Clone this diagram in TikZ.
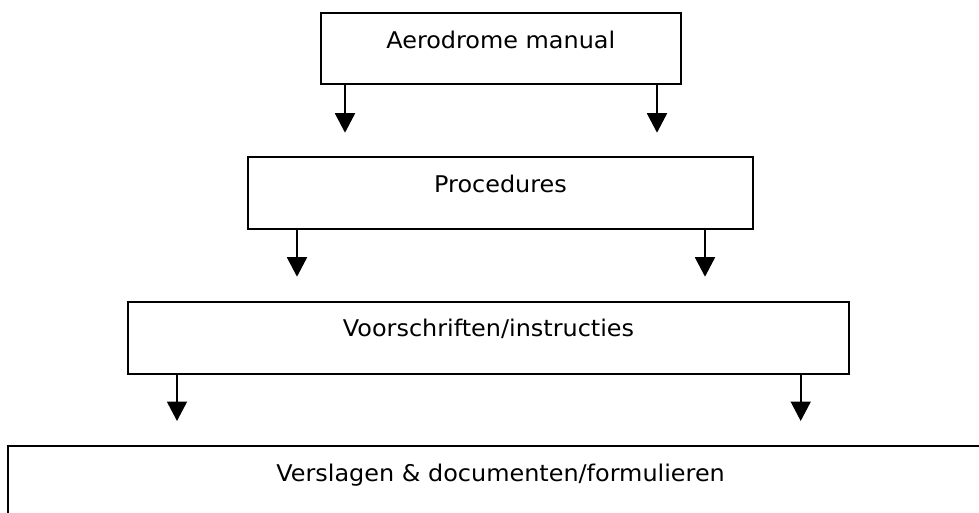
\documentclass[tikz,border=0pt]{standalone}
\usepackage{fontspec}
\setmainfont[FakeStretch=1.04]{DejaVu Sans}
\usetikzlibrary{arrows.meta}
\begin{document}
\begin{tikzpicture}[x=1pt,y=-1pt,
  box/.style={draw=black, line width=1.9pt, rectangle, inner sep=0pt, outer sep=0pt, anchor=north west},
  lbl/.style={font=\fontsize{23}{27}\selectfont, anchor=base, inner sep=0pt},
  arr/.style={line width=1.9pt, -{Triangle[width=20pt,length=19.5pt]}}]
\useasboundingbox (0,0) rectangle (979,512);
\clip (0,0) rectangle (979,512);
% boxes
\node[box, minimum width=360.3pt, minimum height=71pt] (b1) at (320.7,13.3) {};
\node[box, minimum width=504.4pt, minimum height=72pt] (b2) at (248.3,157.3) {};
\node[box, minimum width=720.4pt, minimum height=71.7pt] (b3) at (128.3,302) {};
\node[box, minimum width=984.7pt, minimum height=90pt] (b4) at (8.3,445.7) {};
% labels
\node[lbl] (t1) at (500.8,48.3) {Aerodrome manual};
\node[lbl] (t2) at (500.5,192.7) {Procedures};
\node[lbl] (t3) at (488.5,336) {Voorschriften/instructies};
\node[lbl] (t4) at (500.6,481.7) {Verslagen \& documenten/formulieren};
% arrow end points
\coordinate (e1a) at (345,132.7);
\coordinate (e1b) at (657,132.7);
\coordinate (e2a) at (297,276.7);
\coordinate (e2b) at (705,276.7);
\coordinate (e3a) at (177,421);
\coordinate (e3b) at (800.7,421);
% arrows
\draw[arr] (b1.south -| e1a) -- (e1a);
\draw[arr] (b1.south -| e1b) -- (e1b);
\draw[arr] (b2.south -| e2a) -- (e2a);
\draw[arr] (b2.south -| e2b) -- (e2b);
\draw[arr] (b3.south -| e3a) -- (e3a);
\draw[arr] (b3.south -| e3b) -- (e3b);
\end{tikzpicture}
\end{document}
